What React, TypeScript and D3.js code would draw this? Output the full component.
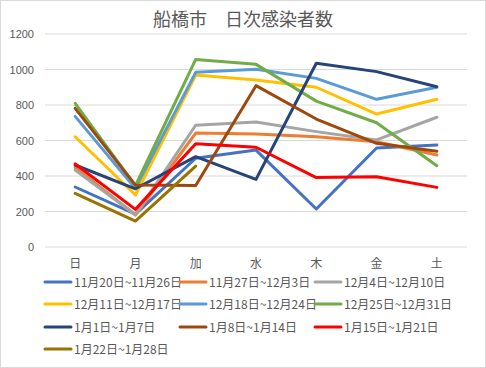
import React from "react";
import * as d3 from "d3";

const days = ["日", "月", "加", "水", "木", "金", "土"];
const seriesNames = [
  "11月20日~11月26日",
  "11月27日~12月3日",
  "12月4日~12月10日",
  "12月11日~12月17日",
  "12月18日~12月24日",
  "12月25日~12月31日",
  "1月1日~1月7日",
  "1月8日~1月14日",
  "1月15日~1月21日",
  "1月22日~1月28日",
];
const seriesColors = [
  "#4472C4", "#ED7D31", "#A5A5A5", "#FFC000", "#5B9BD5",
  "#70AD47", "#264478", "#9E480E", "#FF0000", "#997300",
];
const s1 = [338, 185, 500, 546, 214, 558, 574];
const s2 = [448, 180, 642, 636, 621, 593, 518];
const s3 = [434, 182, 686, 704, 650, 603, 731];
const s4 = [621, 293, 969, 941, 900, 749, 832];
const s5 = [736, 330, 984, 1001, 950, 832, 900];
const s6 = [809, 345, 1057, 1029, 822, 700, 458];
const s7 = [462, 328, 509, 381, 1035, 988, 903];
const s8 = [781, 349, 347, 909, 721, 584, 539];
const s9 = [468, 212, 582, 562, 391, 396, 336];
const s10 = [302, 146, 456];
const seriesValues = [s1, s2, s3, s4, s5, s6, s7, s8, s9, s10];
const yTicks = [0, 200, 400, 600, 800, 1000, 1200];

const W = 486, H = 368;
const plotL = 45, plotR = 467, plotT = 34, plotB = 247;
const FONT = "'Noto Sans CJK JP', 'Noto Sans', sans-serif";

export default function App() {
  const x = d3.scaleBand<string>().domain(days).range([plotL, plotR]);
  const y = d3.scaleLinear().domain([0, 1200]).range([plotB, plotT]);
  const line = d3
    .line<number>()
    .x((_, i) => (x(days[i]) as number) + x.bandwidth() / 2)
    .y((d) => y(d));

  const legendCols = [45, 180, 315];
  const legendRows = [282, 304, 327, 349];

  return (
    <div style={{ position: "absolute", left: 0, top: 0 }}>
      <svg width={W} height={H} style={{ display: "block" }} fontFamily={FONT}>
        <rect x={0.5} y={0.5} width={W - 1} height={H - 1} fill="#fff" stroke="#D9D9D9" />
        <text x={W / 2} y={26} textAnchor="middle" fontSize={18} fill="#595959">
          船橋市　日次感染者数
        </text>
        {yTicks.map((t) => (
          <g key={t}>
            <line x1={plotL} x2={plotR} y1={y(t)} y2={y(t)} stroke="#D9D9D9" strokeWidth={1} />
            <text x={34} y={y(t) + 4} textAnchor="end" fontSize={11} fill="#595959" fontFamily="'Liberation Sans', sans-serif">
              {t}
            </text>
          </g>
        ))}
        {days.map((d) => (
          <text key={d} x={(x(d) as number) + x.bandwidth() / 2} y={268} textAnchor="middle" fontSize={12} fill="#595959">
            {d}
          </text>
        ))}
        {seriesValues.map((vals, i) => (
          <path key={i} d={line(vals) || ""} fill="none" stroke={seriesColors[i]} strokeWidth={3} strokeLinejoin="round" strokeLinecap="round" />
        ))}
        {seriesNames.map((name, i) => {
          const cx = legendCols[i % 3];
          const cy = legendRows[Math.floor(i / 3)];
          return (
            <g key={name}>
              <line x1={cx} x2={cx + 26} y1={cy} y2={cy} stroke={seriesColors[i]} strokeWidth={3} strokeLinecap="round" />
              <text x={cx + 29} y={cy + 4.5} fontSize={12} fill="#595959">
                {name}
              </text>
            </g>
          );
        })}
      </svg>
    </div>
  );
}
